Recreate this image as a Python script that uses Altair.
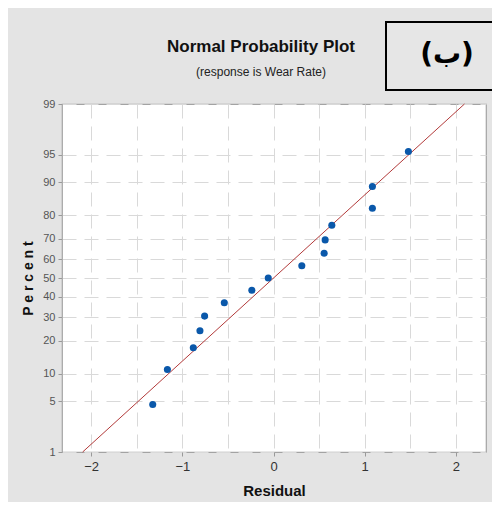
import altair as alt
import pandas as pd
from statistics import NormalDist

# ---- data ----
residual = [-1.325, -1.164, -0.880, -0.807, -0.756, -0.540, -0.238, -0.058,
            0.310, 0.555, 0.566, 0.639, 1.084, 1.084, 1.479]
percent = [4.55, 11.04, 17.53, 24.03, 30.52, 37.01, 43.51, 50.0,
           56.49, 62.99, 69.48, 75.97, 82.47, 88.96, 95.45]
y_ticks = [1, 5, 10, 20, 30, 40, 50, 60, 70, 80, 90, 95, 99]
x_ticks = [-2, -1, 0, 1, 2]
x_grid = [-2, -1.5, -1, -0.5, 0, 0.5, 1, 1.5, 2]
fit_mean = 0.0
fit_sd = 0.9
line_percent = [1, 99]
panel_label = ["(ب)"]
title_text = ["Normal Probability Plot"]
subtitle_text = ["(response is Wear Rate)"]

nd = NormalDist()
pts = pd.DataFrame({"residual": residual, "percent": percent})
pts["z"] = [nd.inv_cdf(p / 100) for p in percent]
fit = pd.DataFrame({"percent": line_percent})
fit["z"] = [nd.inv_cdf(p / 100) for p in line_percent]
fit["residual"] = [fit_mean + fit_sd * z for z in fit["z"]]

y_vals = [nd.inv_cdf(p / 100) for p in y_ticks]
y_dom = [nd.inv_cdf(0.01), nd.inv_cdf(0.99)]

NARROW = "Liberation Sans Narrow, Arial Narrow, Liberation Sans, Arial, sans-serif"
GRID = "#d9d9d9"

x_axis = alt.Axis(
    values=x_grid, format=".0f",
    labelExpr="datum.value % 1 == 0 ? datum.label : ''",
    tickOpacity={"condition": {"test": "datum.value % 1 != 0", "value": 0}, "value": 1},
    title="Residual", titleFont=NARROW, titleFontSize=15, titleFontWeight="bold",
    titleColor="#111", titleX=212, titleY=38, titleBaseline="middle",
    labelFont=NARROW, labelFontSize=13, labelColor="#333", labelPadding=4,
    tickSize=4, tickColor="#999", domain=False,
    grid=True, gridColor=GRID, gridDash=[14, 8], gridWidth=1,
)
y_axis = alt.Axis(
    values=y_vals,
    labelExpr="round(cumulativeNormal(datum.value) * 100)",
    title="P e r c e n t", titleFont=NARROW, titleFontSize=14, titleFontWeight="bold",
    titleColor="#111", titleX=-34, titleY=174, titleAngle=270,
    titleBaseline="middle", titleAlign="center",
    labelFont=NARROW, labelFontSize=11, labelColor="#555", labelPadding=3,
    tickSize=4, tickColor="#999", domain=False,
    grid=True, gridColor=GRID, gridDash=[14, 8], gridWidth=1,
)

x_enc = alt.X("residual:Q", scale=alt.Scale(domain=[-2.32, 2.33], nice=False, zero=False), axis=x_axis)
y_enc = alt.Y("z:Q", scale=alt.Scale(domain=y_dom, nice=False, zero=False), axis=y_axis)

points = alt.Chart(pts).mark_circle(size=50, color="#0a58aa", opacity=1).encode(x=x_enc, y=y_enc)
line = alt.Chart(fit).mark_line(color="#b23a3a", strokeWidth=1).encode(x=x_enc, y=y_enc)

one = alt.Data(values=[{"t": panel_label[0], "a": title_text[0], "b": subtitle_text[0]}])
box = alt.Chart(one).mark_rect(
    fill="#e6e6e6", stroke="#000", strokeWidth=2
).encode(x=alt.value(324), x2=alt.value(470), y=alt.value(-82), y2=alt.value(-14))
box_text = alt.Chart(one).mark_text(
    font="DejaVu Sans", fontSize=28, fontWeight="bold", color="#000",
    align="center", baseline="middle"
).encode(x=alt.value(385), y=alt.value(-49), text="t:N")
title = alt.Chart(one).mark_text(
    font=NARROW, fontSize=17, fontWeight="bold", color="#111",
    align="center", baseline="alphabetic"
).encode(x=alt.value(199), y=alt.value(-52), text="a:N")
subtitle = alt.Chart(one).mark_text(
    font=NARROW, fontSize=12, color="#222",
    align="center", baseline="alphabetic"
).encode(x=alt.value(199), y=alt.value(-28), text="b:N")

chart = alt.layer(line, points, box, box_text, title, subtitle).properties(
    width=424, height=348,
    autosize=alt.AutoSizeParams(type="none"),
    padding={"left": 54, "top": 96, "right": 6, "bottom": 50},
    background="#e4e4e4",
).configure_view(
    fill="white", stroke="#a3a3a3", strokeWidth=1.2
)

chart.save("out.html", embed_options={"renderer": "svg", "actions": False})
